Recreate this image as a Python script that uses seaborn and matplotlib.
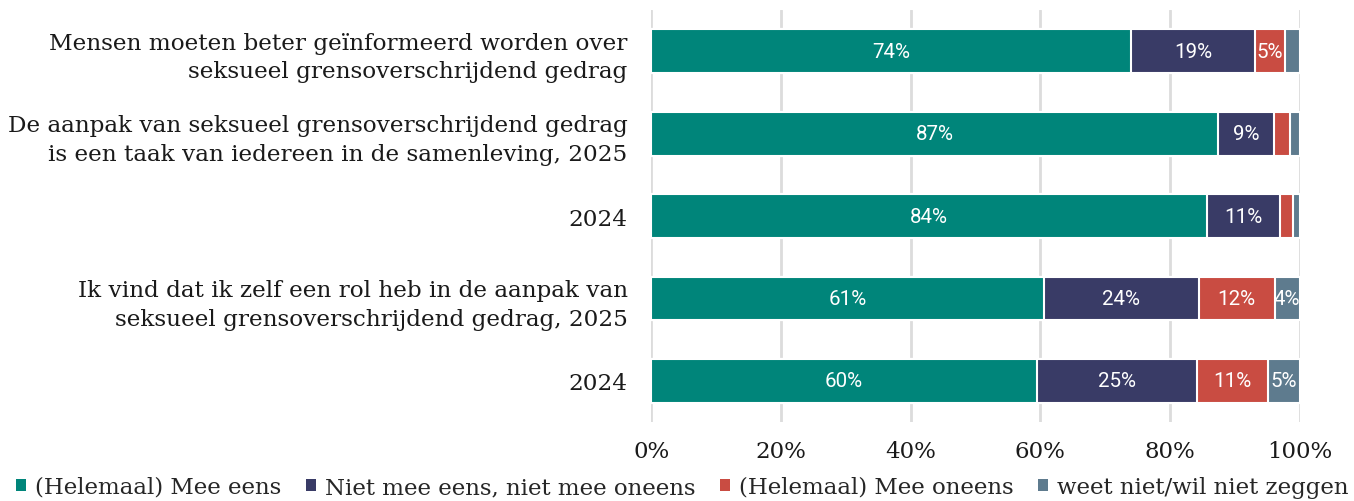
import pandas as pd
import matplotlib.pyplot as plt
import seaborn as sns
from matplotlib.patches import Patch

sns.set_theme(style="white")
plt.rcParams['font.family'] = ['DejaVu Serif']

statements = [
    "Mensen moeten beter geïnformeerd worden over\nseksueel grensoverschrijdend gedrag",
    "De aanpak van seksueel grensoverschrijdend gedrag\nis een taak van iedereen in de samenleving, 2025",
    "2024",
    "Ik vind dat ik zelf een rol heb in de aanpak van\nseksueel grensoverschrijdend gedrag, 2025",
    "2024",
]
answers = ["(Helemaal) Mee eens", "Niet mee eens, niet mee oneens",
           "(Helemaal) Mee oneens", "weet niet/wil niet zeggen"]
mee_eens = [73.9, 87.4, 84.2, 60.6, 59.6]
neutraal = [19.2, 8.6, 11.0, 23.8, 24.7]
mee_oneens = [4.6, 2.5, 2.0, 11.7, 11.0]
weet_niet = [2.3, 1.5, 1.0, 3.9, 4.9]
colors = ["#00857a", "#393b66", "#c94c42", "#5e7b8e"]

df = pd.DataFrame({"row": range(len(statements)),
                   answers[0]: mee_eens, answers[1]: neutraal,
                   answers[2]: mee_oneens, answers[3]: weet_niet})
totals = df[answers].sum(axis=1)
share = df[answers].div(totals, axis=0) * 100
cum = share.cumsum(axis=1)

fig, ax = plt.subplots(figsize=(13.54, 5.02), dpi=100)
fig.subplots_adjust(left=0.481, right=0.96, top=0.978, bottom=0.157)

# stack by drawing cumulative totals from the back
for i in reversed(range(len(answers))):
    plot_df = pd.DataFrame({"row": df["row"].astype(str), "val": cum[answers[i]]})
    sns.barplot(data=plot_df, x="val", y="row", orient="h", color=colors[i],
                saturation=1, width=0.53, edgecolor="white", linewidth=1.5,
                ax=ax, zorder=2)

for r in range(len(statements)):
    for i, a in enumerate(answers):
        w = share.loc[r, a]
        if w >= 3.5:
            mid = cum.loc[r, a] - w / 2
            ax.text(mid, r, f"{df.loc[r, a]:.0f}%", ha="center", va="center",
                    color="white", fontsize=14.8, family="Roboto", zorder=3)

ax.set_xlim(0, 100)
ax.set_ylim(4.5, -0.5)
ax.set_xticks(range(0, 101, 20))
ax.set_xticklabels([f"{t}%" for t in range(0, 101, 20)], fontsize=16.5, color="#1a1a1a")
ax.set_yticks(range(len(statements)))
ax.set_yticklabels(statements, fontsize=16.7, color="#1a1a1a", linespacing=1.38)
ax.tick_params(axis="x", pad=13, length=0)
ax.tick_params(axis="y", pad=17, length=0)
ax.set_xlabel("")
ax.set_ylabel("")
ax.xaxis.grid(True, color="#dcdcdc", linewidth=2, zorder=0)
ax.set_axisbelow(True)
sns.despine(ax=ax, left=True, bottom=True)

handles = [Patch(facecolor=c, edgecolor="none") for c in colors]
fig.legend(handles, answers, loc="lower center", ncol=4, frameon=False,
           bbox_to_anchor=(0.504, -0.035), fontsize=16.5, handlelength=0.45,
           handleheight=0.45, handletextpad=0.4, columnspacing=1.05)

plt.savefig("out.png", dpi=100)
